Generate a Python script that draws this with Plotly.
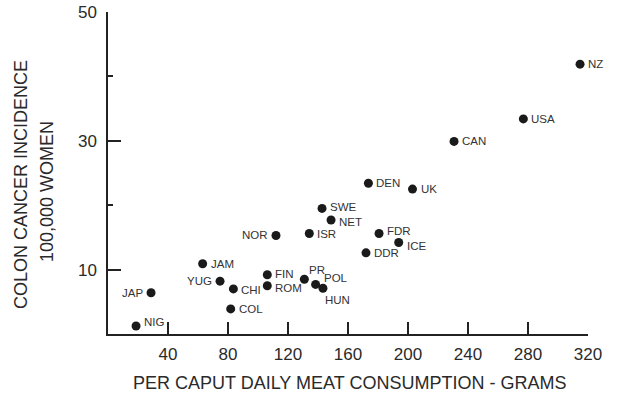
import plotly.graph_objects as go

countries = ["NZ", "USA", "CAN", "DEN", "UK", "SWE", "NET", "ISR", "FDR", "ICE", "DDR",
             "NOR", "JAM", "YUG", "JAP", "NIG", "CHI", "COL", "FIN", "ROM", "PR", "POL", "HUN"]
meat = [314.7, 276.9, 230.7, 173.6, 203.0, 142.7, 148.7, 134.2, 180.7, 193.8, 172.0,
        112.0, 63.1, 74.7, 28.7, 18.7, 83.6, 81.8, 106.2, 106.2, 130.9, 138.4, 143.3]
incidence = [41.9, 33.4, 29.9, 23.4, 22.5, 19.5, 17.7, 15.6, 15.6, 14.2, 12.6,
             15.3, 10.9, 8.2, 6.4, 1.25, 7.0, 3.9, 9.2, 7.5, 8.5, 7.7, 7.1]

# label placement (style only): anchor side and pixel shifts
label_side = ["left"] * 23
for name in ["NOR", "YUG", "JAP"]:
    label_side[countries.index(name)] = "right"
label_dx = {"PR": 3, "POL": 6, "HUN": 0, "NIG": 6}
label_dy = {"FDR": 3, "ICE": -3, "PR": 9, "POL": 6, "HUN": -12, "NIG": 4,
            "ROM": -2, "CHI": -1, "FIN": 1, "SWE": 1.5, "NET": -1.5}

x_ticks = [40, 80, 120, 160, 200, 240, 280, 320]
y_ticks = [10, 30, 50]

font = "Liberation Sans, Arial, sans-serif"

fig = go.Figure()
fig.add_trace(go.Scatter(
    x=meat, y=incidence, mode="markers",
    marker=dict(color="#1a1a1a", size=9),
    cliponaxis=False, showlegend=False, hoverinfo="skip",
))

annotations = []
for name, xv, yv, side in zip(countries, meat, incidence, label_side):
    dx = label_dx.get(name, 6)
    annotations.append(dict(
        x=xv, y=yv, xref="x", yref="y", text=name, showarrow=False,
        xanchor=side, yanchor="middle",
        xshift=dx if side == "left" else -dx, yshift=label_dy.get(name, 0),
        font=dict(family=font, size=11.5, color="#333333"),
    ))

annotations += [
    dict(text="COLON CANCER INCIDENCE", xref="paper", yref="paper", x=-0.181, y=0.463,
         textangle=-90, showarrow=False, font=dict(size=18, family=font),
         xanchor="center", yanchor="middle"),
    dict(text="100,000 WOMEN", xref="paper", yref="paper", x=-0.127, y=0.441,
         textangle=-90, showarrow=False, font=dict(size=18, family=font),
         xanchor="center", yanchor="middle"),
    dict(text="PER CAPUT DAILY MEAT CONSUMPTION - GRAMS", xref="paper", yref="paper",
         x=0.504, y=-0.152, showarrow=False, font=dict(size=18, family=font),
         xanchor="center", yanchor="middle"),
]

fig.update_layout(
    width=624, height=399,
    margin=dict(l=108, r=36, t=12, b=65),
    paper_bgcolor="white", plot_bgcolor="white",
    font=dict(family=font, color="#2a2a2a"),
    xaxis=dict(range=[0, 320], tickvals=x_ticks, ticks="inside", ticklen=12, tickwidth=1.5,
               tickcolor="#222", showline=True, linecolor="#222", linewidth=1.5,
               showgrid=False, zeroline=False, tickfont=dict(size=17, family=font),
               ticklabelstandoff=4, automargin=False),
    yaxis=dict(range=[0, 50], tickvals=y_ticks, ticks="inside", ticklen=13, tickwidth=1.5,
               tickcolor="#222", showline=True, linecolor="#222", linewidth=1.5,
               showgrid=False, zeroline=False, tickfont=dict(size=17, family=font),
               ticklabelstandoff=6, automargin=False,
               minor=dict(tickvals=[20, 40], ticks="inside", ticklen=5, tickwidth=1.5,
                          tickcolor="#222", showgrid=False)),
    annotations=annotations,
)

fig.write_html("out.html", config={"displayModeBar": False},
               post_script="document.body.style.margin='0';")
